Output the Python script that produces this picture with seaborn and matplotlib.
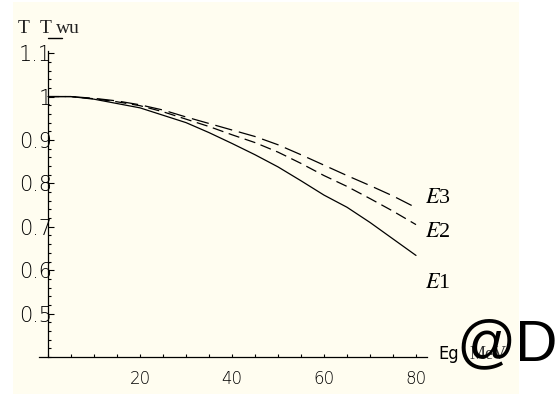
import numpy as np
import pandas as pd
import matplotlib
matplotlib.use("Agg")
import matplotlib.pyplot as plt
from matplotlib.patches import Rectangle
from matplotlib.ticker import MultipleLocator
import seaborn as sns

# ---- data ----
energy = [0, 5, 10, 15, 20, 25, 30, 35, 40, 45, 50, 55, 60, 65, 70, 75, 80]
e1 = [1.0, 1.0, 0.994, 0.984, 0.974, 0.957, 0.940, 0.917, 0.892, 0.866,
      0.838, 0.806, 0.773, 0.745, 0.710, 0.672, 0.634]
e2 = [1.0, 1.0, 0.995, 0.988, 0.979, 0.965, 0.948, 0.931, 0.912, 0.894,
      0.872, 0.846, 0.818, 0.793, 0.765, 0.736, 0.705]
e3 = [1.0, 1.0, 0.996, 0.990, 0.981, 0.969, 0.953, 0.938, 0.923, 0.908,
      0.889, 0.866, 0.842, 0.818, 0.795, 0.771, 0.744]
series_names = ["E1", "E2", "E3"]
x_ticks = [20, 40, 60, 80]
y_ticks = [0.5, 0.6, 0.7, 0.8, 0.9, 1.0, 1.1]
y_tick_labels = ["0.5", "0.6", "0.7", "0.8", "0.9", "1", "1.1"]

df = pd.DataFrame({
    "Eg": energy * 3,
    "ratio": e1 + e2 + e3,
    "series": [n for n in series_names for _ in energy],
})

sns.set_theme(style="white")
plt.rcParams["font.family"] = ["DejaVu Sans"]
plt.rcParams["mathtext.fontset"] = "stix"

W, H = 560, 394
fig = plt.figure(figsize=(W / 100, H / 100), dpi=100, facecolor="white")
cream = "#FFFDF0"
fig.patches.append(Rectangle((13 / W, 0), (519 - 13) / W, (H - 2) / H,
                             transform=fig.transFigure, facecolor=cream,
                             edgecolor="none", zorder=-10))

ax = fig.add_axes([38.8 / W, (H - 357) / H, (427.5 - 38.8) / W, (357 - 51) / H])
ax.set_facecolor("none")
ax.set_zorder(1)

dash_styles = {"E1": None, "E2": (9, 4.5), "E3": (14, 5.5)}
for name in series_names:
    sub = df[df["series"] == name]
    sns.lineplot(data=sub, x="Eg", y="ratio", ax=ax, color="black",
                 linewidth=0.9, legend=False)
    ln = ax.get_lines()[-1]
    if dash_styles[name] is not None:
        ln.set_dashes(dash_styles[name])

ax.set_xlim(-2, 82.5)
ax.set_ylim(0.4, 1.105)
ax.spines["left"].set_position(("data", 0))
ax.spines["bottom"].set_position(("data", 0.4))
for s in ["top", "right"]:
    ax.spines[s].set_visible(False)
for s in ["left", "bottom"]:
    ax.spines[s].set_color("black")
    ax.spines[s].set_linewidth(0.9)

ax.set_xticks(x_ticks)
ax.xaxis.set_minor_locator(MultipleLocator(5))
ax.set_yticks(y_ticks)
ax.set_yticklabels(y_tick_labels)
ax.yaxis.set_minor_locator(MultipleLocator(0.02))
ax.tick_params(axis="both", which="both", direction="in", color="black",
               width=0.8, left=True, bottom=True)
ax.tick_params(axis="x", which="major", length=2.5, pad=9, labelsize=12)
ax.tick_params(axis="x", which="minor", length=2.0)
ax.tick_params(axis="y", which="major", length=4, pad=-3, labelsize=15)
ax.tick_params(axis="y", which="minor", length=2.5)
for lab in ax.get_xticklabels() + ax.get_yticklabels():
    lab.set_fontweight("light")
    lab.set_color("black")
ax.set_xlabel("")
ax.set_ylabel("")

# axis labels
for txt, xp in [("T", 18), ("T", 40), ("wu", 56)]:
    fig.text(xp / W, 1 - 33 / H, txt, fontsize=14, family="Liberation Serif",
             color="#222222", ha="left", va="baseline")
fig.lines.append(plt.Line2D([48 / W, 62 / W], [1 - 38 / H, 1 - 38 / H],
                            transform=fig.transFigure, color="black", lw=1))
fig.text(438 / W, 1 - 359 / H, "Eg", fontsize=13, family="DejaVu Sans",
         fontstretch="condensed", color="black", ha="left", va="baseline")
fig.text(470 / W, 1 - 359 / H, "MeV", fontsize=13, family="Liberation Serif",
         color="#333333", ha="left", va="baseline")

# curve labels
for name, y in [("E3", 203), ("E2", 237), ("E1", 288)]:
    fig.text(425 / W, 1 - y / H, r"$E$" + name[1], fontsize=16,
             family="Liberation Serif", color="black", ha="left", va="baseline")

fig.text(558 / W, 1 - 360 / H, "@D", fontsize=42,
         family="Liberation Sans", color="black",
         ha="right", va="baseline", zorder=5)

fig.savefig("out.png", dpi=100, facecolor="white")
